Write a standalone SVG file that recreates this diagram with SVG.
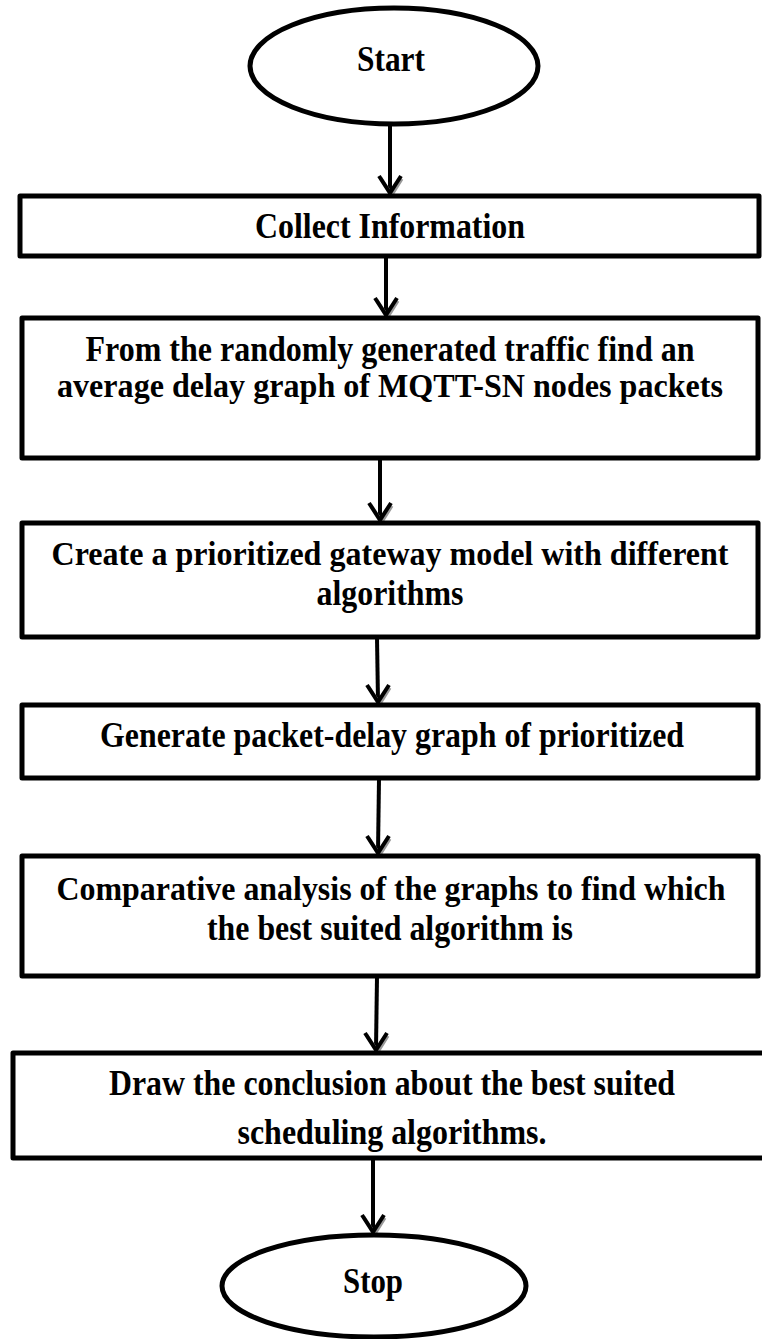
<svg xmlns="http://www.w3.org/2000/svg" width="762" height="1339" viewBox="0 0 762 1339">
<style>
.box{fill:#fff;stroke:#000;stroke-width:5;stroke-linejoin:round}
.t{font-family:"Liberation Serif","Times New Roman",serif;font-weight:bold;font-size:35px;fill:#000;text-anchor:middle}
.t.w{font-size:33px}
.ln{stroke:#000;stroke-width:4;fill:none}
.hd{stroke:#000;stroke-width:4;fill:none;stroke-linejoin:miter}
.sh{stroke:#999;stroke-width:3;fill:none}
</style>
<defs>
<g id="head">
<path class="sh" d="M-9,-16 L2,1 L12,-15"/>
<path class="hd" d="M-11,-18 L0,-1 L11,-18"/>
</g>
</defs>
<rect width="762" height="1339" fill="#fff"/>
<g id="connectors">
<line class="ln" x1="390" y1="125" x2="390" y2="192"/><use href="#head" x="390" y="194"/>
<line class="ln" x1="386" y1="256" x2="386" y2="314"/><use href="#head" x="386" y="316"/>
<line class="ln" x1="380" y1="459" x2="380" y2="519"/><use href="#head" x="380" y="521"/>
<line class="ln" x1="377" y1="638" x2="378" y2="701"/><use href="#head" x="378" y="703"/>
<line class="ln" x1="379" y1="779" x2="378" y2="852"/><use href="#head" x="378" y="854"/>
<line class="ln" x1="377" y1="977" x2="376" y2="1049"/><use href="#head" x="376" y="1051"/>
<line class="ln" x1="373" y1="1160" x2="373" y2="1231"/><use href="#head" x="373" y="1233"/>
</g>
<g id="start">
<ellipse class="box" cx="394" cy="66" rx="144" ry="58"/>
<text class="t" x="391" y="71" textLength="68" lengthAdjust="spacingAndGlyphs">Start</text>
</g>
<g id="collect">
<rect class="box" x="20" y="196" width="739" height="60"/>
<text class="t" x="390" y="238" textLength="270" lengthAdjust="spacingAndGlyphs">Collect Information</text>
</g>
<g id="average-delay">
<rect class="box" x="22" y="318" width="736" height="140"/>
<text class="t" x="390" y="361" textLength="609" lengthAdjust="spacingAndGlyphs">From the randomly generated traffic find an</text>
<text class="t w" x="390" y="397" textLength="666" lengthAdjust="spacingAndGlyphs">average delay graph of MQTT-SN nodes packets</text>
</g>
<g id="gateway-model">
<rect class="box" x="22" y="523" width="736" height="114"/>
<text class="t w" x="390" y="565" textLength="677" lengthAdjust="spacingAndGlyphs">Create a prioritized gateway model with different</text>
<text class="t" x="390" y="605" textLength="147" lengthAdjust="spacingAndGlyphs">algorithms</text>
</g>
<g id="packet-delay">
<rect class="box" x="22" y="705" width="736" height="73"/>
<text class="t" x="392" y="747" textLength="584" lengthAdjust="spacingAndGlyphs">Generate packet-delay graph of prioritized</text>
</g>
<g id="comparative">
<rect class="box" x="22" y="856" width="736" height="120"/>
<text class="t w" x="391" y="900" textLength="669" lengthAdjust="spacingAndGlyphs">Comparative analysis of the graphs to find which</text>
<text class="t" x="390" y="940" textLength="366" lengthAdjust="spacingAndGlyphs">the best suited algorithm is</text>
</g>
<g id="conclusion">
<rect class="box" x="13" y="1053" width="760" height="105"/>
<text class="t" x="392" y="1095" textLength="566" lengthAdjust="spacingAndGlyphs">Draw the conclusion about the best suited</text>
<text class="t" x="392" y="1144" textLength="309" lengthAdjust="spacingAndGlyphs">scheduling algorithms.</text>
</g>
<g id="stop">
<ellipse class="box" cx="374" cy="1286" rx="152" ry="51"/>
<text class="t" x="373" y="1293" textLength="60" lengthAdjust="spacingAndGlyphs">Stop</text>
</g>
</svg>
